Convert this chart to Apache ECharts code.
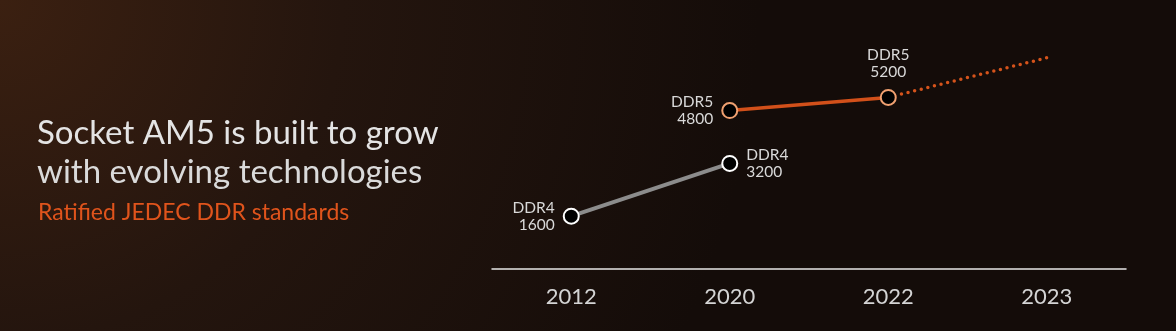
<!DOCTYPE html>
<html>
<head>
<meta charset="utf-8">
<script src="https://cdn.jsdelivr.net/npm/echarts@6/dist/echarts.min.js"></script>
<style>
html,body{margin:0;padding:0;background:#140c09;}
#chart{width:1176px;height:331px;}
</style>
</head>
<body>
<div id="chart"></div>
<script>
// ---- data ----
const categories = ['2012', '2020', '2022', '2023'];
const ddr4Values = [1600, 3200, null, null];
const ddr5Values = [null, 4800, 5200, null];
const ddr5FutureValues = [null, null, 5200, 6400];
const ddr4LabelPos = ['left', 'right', null, null];
const ddr5LabelPos = [null, 'left', 'top', null];
const titleLines = ['Socket AM5 is built to grow', 'with evolving technologies'];
const subtitle = 'Ratified JEDEC DDR standards';

const FONT = 'Lato, "Noto Sans", sans-serif';
const labelStyle = {
  color: '#d9d9d9',
  fontFamily: FONT,
  fontSize: 15.5,
  lineHeight: 17,
  distance: 8
};

function buildData(values, positions, name) {
  return values.map((v, i) => {
    if (v == null) return null;
    return {
      value: v,
      label: {
        show: true,
        position: positions[i],
        formatter: name + '\n' + v,
        align: positions[i] === 'left' ? 'right' : (positions[i] === 'right' ? 'left' : 'center')
      }
    };
  });
}

const chart = echarts.init(document.getElementById('chart'));
chart.setOption({
  animation: false,
  backgroundColor: {
    type: 'radial', x: 0, y: 0, r: 760, global: true,
    colorStops: [
      { offset: 0, color: '#3b2011' },
      { offset: 0.45, color: '#24150e' },
      { offset: 1, color: '#140c09' }
    ]
  },
  grid: { left: 492, right: 50, top: 38, bottom: 62 },
  xAxis: {
    type: 'category',
    data: categories,
    boundaryGap: true,
    axisLine: { lineStyle: { color: '#e6e6e6', width: 1.5 } },
    axisTick: { show: false },
    axisLabel: { color: '#d4d4d4', fontFamily: FONT, fontSize: 22, margin: 17 }
  },
  yAxis: {
    type: 'value', min: 0, max: 7000, show: false,
    splitLine: { show: false }
  },
  graphic: [
    { type: 'text', x: 37, y: 133, style: { text: titleLines[0], fill: '#e4e4e4', font: '400 33px ' + FONT, verticalAlign: 'middle' } },
    { type: 'text', x: 37, y: 172, style: { text: titleLines[1], fill: '#dadada', font: '400 33px ' + FONT, verticalAlign: 'middle' } },
    { type: 'text', x: 38, y: 213, style: { text: subtitle, fill: '#e0541c', font: '400 23px ' + FONT, verticalAlign: 'middle' } }
  ],
  series: [
    {
      name: 'DDR5 future', type: 'line', data: ddr5FutureValues,
      symbol: 'none', z: 1,
      lineStyle: { color: '#d5531b', width: 3.5, type: [0, 6.8], cap: 'round' }
    },
    {
      name: 'DDR4', type: 'line', data: buildData(ddr4Values, ddr4LabelPos, 'DDR4'),
      symbol: 'circle', symbolSize: 15, z: 3,
      lineStyle: { color: '#8c8c8c', width: 4 },
      itemStyle: { color: '#000', borderColor: '#ffffff', borderWidth: 2 },
      label: labelStyle
    },
    {
      name: 'DDR5', type: 'line', data: buildData(ddr5Values, ddr5LabelPos, 'DDR5'),
      symbol: 'circle', symbolSize: 15, z: 3,
      lineStyle: { color: '#d2501a', width: 3.5 },
      itemStyle: { color: '#000', borderColor: '#f0a070', borderWidth: 2 },
      label: labelStyle
    }
  ]
});
</script>
</body>
</html>
